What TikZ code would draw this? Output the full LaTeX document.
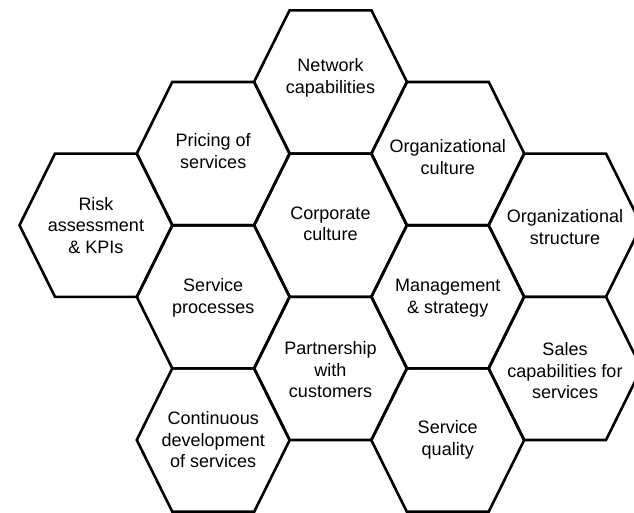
\documentclass[tikz,border=0pt]{standalone}
\usepackage{fontspec}
\setmainfont{Liberation Sans}
\begin{document}
\begin{tikzpicture}[x=1pt,y=-1pt,
  hexline/.style={line width=2.6pt, line join=miter},
  hexlabel/.style={align=center, inner sep=0pt, font=\fontsize{18}{21.5}\selectfont},
  hex/.pic={\draw[hexline] (-76.5,0) -- (-41,-71.6) -- (41,-71.6) -- (76.5,0) -- (41,71.6) -- (-41,71.6) -- cycle;}
]
\useasboundingbox (0,0) rectangle (634,513);
\fill[white] (0,0) rectangle (634,513);
% hexagons
\pic at (96,225.2) {hex};
\pic at (213.25,153.6) {hex};
\pic at (213.25,296.8) {hex};
\pic at (213.25,440) {hex};
\pic at (330.5,82) {hex};
\pic at (330.5,225.2) {hex};
\pic at (330.5,368.4) {hex};
\pic at (447.75,153.6) {hex};
\pic at (447.75,296.8) {hex};
\pic at (447.75,440) {hex};
\pic at (565,225.2) {hex};
\pic at (565,368.4) {hex};
% labels
\node[hexlabel] (risk) at (96,225.2) {Risk\\assessment\\\& KPIs};
\node[hexlabel] (pricing) at (213.25,151) {Pricing of\\services};
\node[hexlabel] (procs) at (213.25,298) {Service\\processes};
\node[hexlabel] (cont) at (213.25,440) {Continuous\\development\\of services};
\node[hexlabel] (net) at (330.5,78) {Network\\capabilities};
\node[hexlabel] (corp) at (330.5,224) {Corporate\\culture};
\node[hexlabel] (part) at (330.5,370) {Partnership\\with\\customers};
\node[hexlabel] (orgcult) at (447.75,157) {Organizational\\culture};
\node[hexlabel] (mgmt) at (447.75,298) {Management\\\& strategy};
\node[hexlabel] (qual) at (447.75,440) {Service\\quality};
\node[hexlabel] (orgstr) at (565,227) {Organizational\\structure};
\node[hexlabel] (sales) at (565,371) {Sales\\capabilities for\\services};
\end{tikzpicture}
\end{document}
